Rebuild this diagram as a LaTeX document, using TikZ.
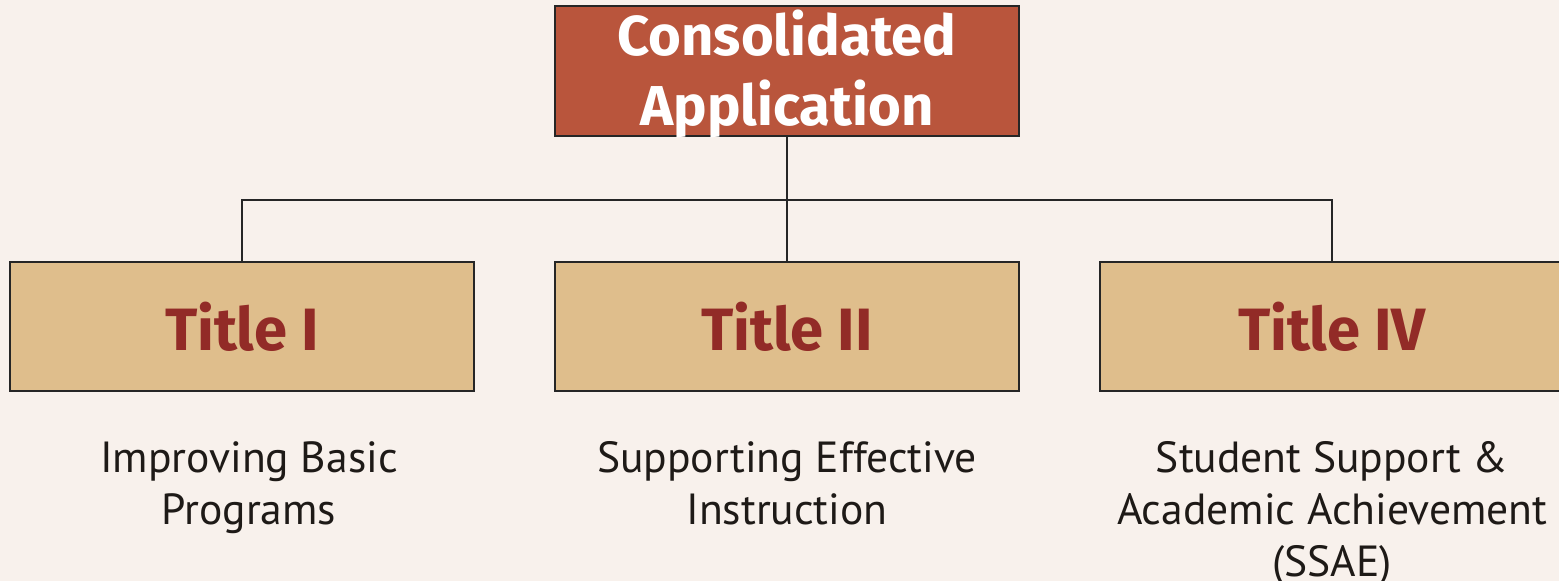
\documentclass[tikz,border=0pt]{standalone}
\usepackage{fontspec}
\setmainfont{PT Sans}
\newfontfamily\headfont{Fira Sans}
\usetikzlibrary{positioning}
\definecolor{pagebg}{HTML}{F8F1EC}
\definecolor{rootfill}{HTML}{B9553C}
\definecolor{titlefill}{HTML}{DFBE8C}
\definecolor{titletext}{HTML}{922B27}
\definecolor{desctext}{HTML}{1E1A17}
\tikzset{
   rootbox/.style={draw=black!85, line width=0.6pt, fill=rootfill,
      minimum width=4.64cm, minimum height=1.30cm, inner sep=0pt,
      align=center, text=white, text depth=1.7pt,
      font=\headfont\bfseries\fontsize{16}{20}\selectfont},
   titlebox/.style={draw=black!85, line width=0.6pt, fill=titlefill,
      minimum width=4.64cm, minimum height=1.29cm, inner sep=0pt,
      text=titletext, font=\headfont\bfseries\fontsize{17}{20}\selectfont},
   desc/.style={align=center, inner sep=0pt, text=desctext,
      font=\fontsize{12.4}{14.8}\selectfont},
   link/.style={draw=black!85, line width=0.5pt}
}

\begin{document}
\begin{tikzpicture}
   \useasboundingbox[fill=pagebg] (0,0) rectangle (15.59,5.81);

   \node[rootbox] (ca) at (7.87,5.10) {Consolidated\\Application};

   \node[titlebox, below=1.24cm of ca] (t2) {Title II};
   \node[titlebox, left =0.79cm of t2] (t1) {Title I};
   \node[titlebox, right=0.79cm of t2] (t4) {Title IV};

   \node[desc, below=0.49cm of t1, xshift=0.07cm] (d1)
      {Improving Basic\\Programs};
   \node[desc, below=0.49cm of t2] (d2)
      {Supporting Effective\\Instruction};
   \node[desc, below=0.49cm of t4] (d4)
      {Student Support \&\\Academic Achievement\\(SSAE)};

   % tree connectors
   \coordinate (bus) at ([yshift=-0.63cm]ca.south);
   \draw[link] (ca.south) -- (bus);
   \draw[link] (t1.north) |- (bus) -| (t4.north);
   \draw[link] (bus) -- (t2.north);
\end{tikzpicture}
\end{document}
